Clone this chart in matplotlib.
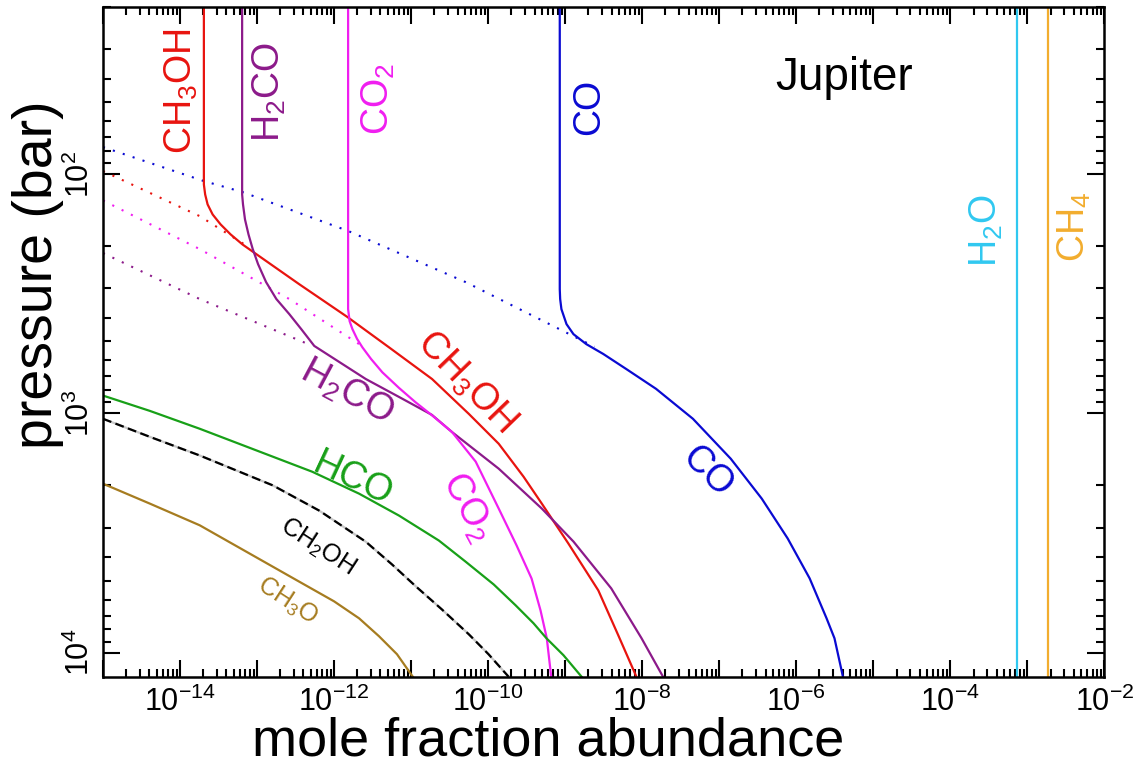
import numpy as np
import matplotlib
matplotlib.use('Agg')
import matplotlib.pyplot as plt
from matplotlib.ticker import LogLocator, FuncFormatter, NullFormatter

plt.rcParams['font.family'] = ['Liberation Sans', 'DejaVu Sans']
plt.rcParams['mathtext.fontset'] = 'custom'
plt.rcParams['mathtext.rm'] = 'Liberation Sans'
plt.rcParams['mathtext.it'] = 'Liberation Sans:italic'
plt.rcParams['mathtext.bf'] = 'Liberation Sans:bold'

# mole fraction abundance (x) against pressure in bar (y)
co_x = [8.5e-10, 8.5e-10, 8.6e-10, 8.93e-10, 1.04e-9, 1.28e-9, 1.88e-9, 3.12e-9, 6.2e-9,
        1.51e-8, 4.55e-8, 1.41e-7, 3.56e-7, 7.73e-7, 1.49e-6, 2.47e-6, 3.13e-6, 4.03e-6]
co_p = [20, 303, 333, 367, 424, 467, 514, 565, 653, 790, 1054, 1548, 2272, 3334, 4894,
        7186, 8708, 12600]
co_quench_x = [1e-15, 2.03e-14, 6.47e-14, 1.52e-12, 5.1e-11, 2.4e-9]
co_quench_p = [77.2, 107, 119, 173, 283, 527]

ch3oh_x = [2.04e-14, 2.04e-14, 2.12e-14, 2.28e-14, 2.65e-14, 3.36e-14, 4.53e-14, 6.47e-14,
           3.54e-13, 1.49e-12, 5.16e-12, 1.87e-11, 5.6e-11, 1.37e-10, 2.88e-10, 4.97e-10,
           1.1e-9, 2.69e-9, 4.88e-9, 8.4e-9]
ch3oh_p = [20, 110.7, 121.8, 134, 147.6, 162.4, 178.8, 197, 289, 396, 530, 719, 1005, 1340,
           1840, 2384, 3500, 5494, 8454, 12600]
ch3oh_quench_x = [1e-15, 1.8e-14, 7.98e-14]
ch3oh_quench_p = [97.2, 150, 203]

h2co_x = [6.4e-14, 6.4e-14, 6.57e-14, 6.97e-14, 7.74e-14, 8.79e-14, 1.03e-13, 1.31e-13,
          1.78e-13, 2.62e-13, 3.75e-13, 5.53e-13, 2.58e-12, 6.95e-12, 1.86e-11, 3.4e-11,
          1.37e-10, 4.97e-10, 1.28e-9, 3.96e-9, 9.8e-9, 1.86e-8]
h2co_p = [20, 121.8, 134, 154.8, 178.8, 206, 238, 283, 333, 385, 445, 523, 719, 854, 1015,
          1198, 1703, 2500, 3434, 5388, 8708, 12600]
h2co_quench_x = [1e-15, 1.8e-14, 5.2e-13]
h2co_quench_p = [214, 333, 522]

co2_x = [1.52e-12, 1.52e-12, 1.59e-12, 1.73e-12, 1.99e-12, 2.33e-12, 3.02e-12, 4.23e-12,
         6.95e-12, 1.14e-11, 1.97e-11, 3.4e-11, 6.89e-11, 1.37e-10, 2.34e-10, 3.66e-10,
         4.78e-10, 5.77e-10, 6.58e-10]
co2_p = [20, 367, 412, 445, 489, 530, 593, 674, 783, 899, 1034, 1198, 1592, 2500, 3566,
         4900, 6654, 8708, 12600]
co2_quench_x = [1e-15, 1.8e-14, 2.62e-13, 2.3e-12]
co2_quench_p = [129, 206, 333, 523]

hco_x = [1e-15, 4.06e-15, 1.8e-14, 7.98e-14, 5.2e-13, 2.11e-12, 6.95e-12, 2.29e-11,
         5.11e-11, 1.18e-10, 2.27e-10, 3.88e-10, 5.71e-10, 9.5e-10, 1.63e-9]
hco_p = [843, 977, 1160, 1393, 1754, 2166, 2674, 3400, 4170, 5188, 6340, 7538, 8708,
         10250, 12600]

ch2oh_x = [1e-15, 4.06e-15, 1.8e-14, 1.6e-13, 6.41e-13, 2.58e-12, 5.65e-12, 1.15e-11,
           2.5e-11, 5.6e-11, 1.01e-10, 1.84e-10]
ch2oh_p = [1054, 1254, 1500, 2000, 2550, 3440, 4280, 5284, 6592, 8376, 10150, 12600]

ch3o_x = [1e-15, 4.06e-15, 1.8e-14, 7.98e-14, 3.54e-13, 1.0e-12, 2.11e-12, 3.83e-12,
          6.55e-12, 1.05e-11]
ch3o_p = [1968, 2384, 2936, 3852, 5054, 6104, 7186, 8540, 10150, 12600]

h2o_x = [7.4e-4, 7.4e-4]
h2o_p = [20, 12600]
ch4_x = [1.84e-3, 1.84e-3]
ch4_p = [20, 12600]

c_red = '#e8140f'
c_purple = '#8c1a8a'
c_magenta = '#f01ef0'
c_blue = '#0a0ad2'
c_green = '#18a018'
c_ochre = '#a67c20'
c_cyan = '#30c8f0'
c_orange = '#f2ad2e'

fig, ax = plt.subplots(figsize=(11.33, 7.68), dpi=100)
fig.subplots_adjust(left=0.0909, right=0.9748, bottom=0.1189, top=0.9913)

dots = (0, (1, 4))
ax.plot(co_quench_x, co_quench_p, color=c_blue, lw=1.5, ls=dots)
ax.plot(ch3oh_quench_x, ch3oh_quench_p, color=c_red, lw=1.5, ls=dots)
ax.plot(co2_quench_x, co2_quench_p, color=c_magenta, lw=1.5, ls=dots)
ax.plot(h2co_quench_x, h2co_quench_p, color=c_purple, lw=1.5, ls=dots)

ax.plot(co_x, co_p, color=c_blue, lw=1.6)
ax.plot(ch3oh_x, ch3oh_p, color=c_red, lw=1.6)
ax.plot(h2co_x, h2co_p, color=c_purple, lw=1.6)
ax.plot(co2_x, co2_p, color=c_magenta, lw=1.6)
ax.plot(hco_x, hco_p, color=c_green, lw=1.6)
ax.plot(ch2oh_x, ch2oh_p, color='#c8c8c8', lw=1.6)
ax.plot(ch2oh_x, ch2oh_p, color='black', lw=1.6, ls=(0, (4, 2)))
ax.plot(ch3o_x, ch3o_p, color=c_ochre, lw=1.6)
ax.plot(h2o_x, h2o_p, color=c_cyan, lw=1.6)
ax.plot(ch4_x, ch4_p, color=c_orange, lw=1.6)

ax.set_xscale('log')
ax.set_yscale('log')
ax.set_xlim(1e-15, 1e-2)
ax.set_ylim(1.26e4, 20)

ax.xaxis.set_major_locator(LogLocator(base=10, numticks=30))
ax.xaxis.set_minor_locator(LogLocator(base=10, subs=np.arange(2, 10), numticks=30))
ax.yaxis.set_major_locator(LogLocator(base=10, numticks=30))
ax.yaxis.set_minor_locator(LogLocator(base=10, subs=np.arange(2, 10), numticks=30))
ax.xaxis.set_minor_formatter(NullFormatter())
ax.yaxis.set_minor_formatter(NullFormatter())


def even_decades(v, pos):
    e = int(round(np.log10(v)))
    # only the even decades inside the axis range get a label
    if e % 2 or e < -15 or e > -2:
        return ''
    return r'$10^{%d}$' % e


def decades(v, pos):
    e = int(round(np.log10(v)))
    if e < 2 or e > 4:
        return ''
    return r'$10^{%d}$' % e


ax.xaxis.set_major_formatter(FuncFormatter(even_decades))
ax.yaxis.set_major_formatter(FuncFormatter(decades))

ax.tick_params(which='both', direction='in', top=True, right=True, width=1.5)
ax.tick_params(which='major', length=12)
ax.tick_params(which='minor', length=6)
ax.tick_params(axis='x', labelsize=22, pad=7)
ax.tick_params(axis='y', labelsize=22, pad=5, labelrotation=90)
plt.setp(ax.get_yticklabels(), va='center')
for s in ax.spines.values():
    s.set_linewidth(1.8)

ax.set_xlabel('mole fraction abundance', fontsize=39, va='baseline')
ax.set_ylabel('pressure (bar)', fontsize=40, va='center')
ax.xaxis.set_label_coords(0.444, -0.118)
ax.yaxis.set_label_coords(-0.065, 0.60)

big = 27
small = 18
tr = ax.transAxes
ax.text(0.0779, 0.874, r'CH$_3$OH', color=c_red, fontsize=big, rotation=90, ha='center', va='center', transform=tr)
ax.text(0.1658, 0.8726, r'H$_2$CO', color=c_purple, fontsize=big, rotation=90, ha='center', va='center', transform=tr)
ax.text(0.2746, 0.8622, r'CO$_2$', color=c_magenta, fontsize=big, rotation=90, ha='center', va='center', transform=tr)
ax.text(0.4853, 0.8501, 'CO', color=c_blue, fontsize=big, rotation=90, ha='center', va='center', transform=tr)
ax.text(0.7399, 0.8936, 'Jupiter', color='black', fontsize=33, ha='center', va='center', transform=tr)
ax.text(0.8817, 0.665, r'H$_2$O', color=c_cyan, fontsize=big, rotation=90, ha='center', va='center', transform=tr)
ax.text(0.9696, 0.671, r'CH$_4$', color=c_orange, fontsize=big, rotation=90, ha='center', va='center', transform=tr)

ax.text(0.3625, 0.4398, r'CH$_3$OH', color=c_red, fontsize=big, rotation=-46, ha='center', va='center', transform=tr)
ax.text(0.2436, 0.425, r'H$_2$CO', color=c_purple, fontsize=big, rotation=-28, ha='center', va='center', transform=tr)
ax.text(0.2496, 0.2936, 'HCO', color=c_green, fontsize=big, rotation=-25, ha='center', va='center', transform=tr)
ax.text(0.3635, 0.2533, r'CO$_2$', color=c_magenta, fontsize=big, rotation=-62, ha='center', va='center', transform=tr)
ax.text(0.6031, 0.3055, 'CO', color=c_blue, fontsize=big, rotation=-45, ha='center', va='center', transform=tr)
ax.text(0.2137, 0.1936, r'CH$_2$OH', color='black', fontsize=small, rotation=-33, ha='center', va='center', transform=tr)
ax.text(0.1837, 0.1131, r'CH$_3$O', color=c_ochre, fontsize=small, rotation=-33, ha='center', va='center', transform=tr)

fig.savefig('out.png', dpi=100)
